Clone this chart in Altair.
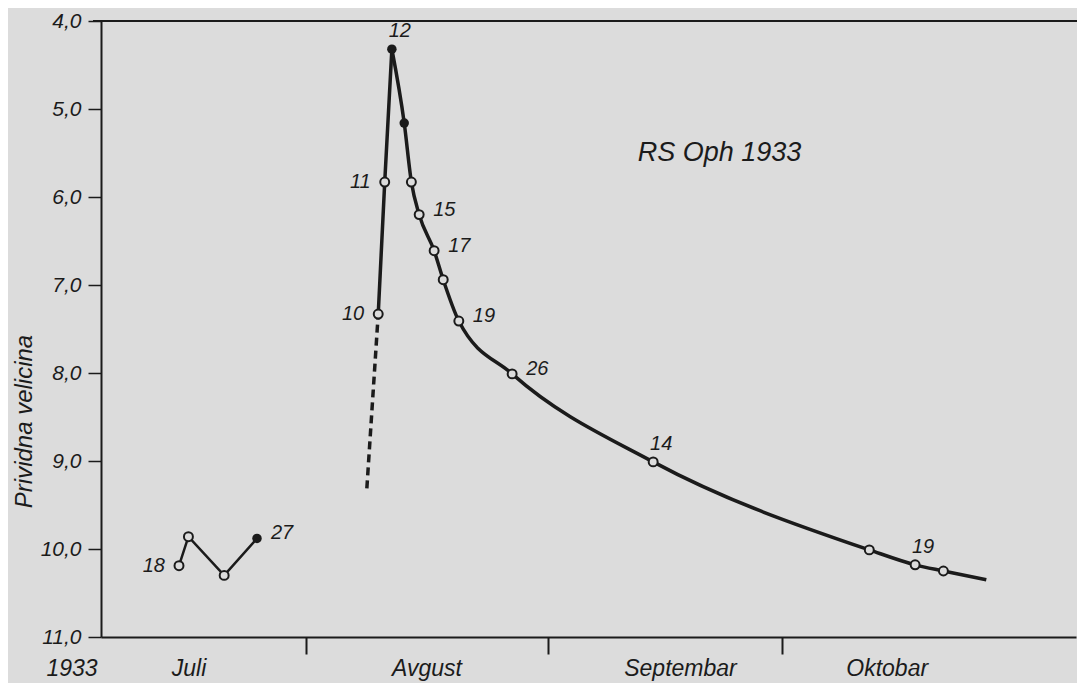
import altair as alt
import pandas as pd

# ---- data (date as drawn, apparent magnitude) ----
pre_dates = ["1933-07-15T17:00:00Z", "1933-07-16T22:00:00Z", "1933-07-21T12:00:00Z", "1933-07-25T17:00:00Z"]
pre_mags = [10.19, 9.86, 10.30, 9.88]

rise_dates = ["1933-08-10T06:00:00Z", "1933-08-11T02:00:00Z", "1933-08-12T00:00:00Z"]
rise_mags = [7.33, 5.83, 4.32]

decline_dates = ["1933-08-12T00:00:00Z", "1933-08-13T14:00:00Z", "1933-08-14T12:00:00Z",
                 "1933-08-15T12:00:00Z", "1933-08-17T10:00:00Z", "1933-08-18T14:00:00Z",
                 "1933-08-20T14:00:00Z", "1933-08-27T10:00:00Z", "1933-09-14T12:00:00Z",
                 "1933-10-12T05:00:00Z", "1933-10-18T02:00:00Z", "1933-10-21T17:00:00Z",
                 "1933-10-27T05:00:00Z"]
decline_mags = [4.32, 5.16, 5.83, 6.20, 6.61, 6.94, 7.41, 8.01, 9.01, 10.01, 10.18, 10.25, 10.35]

dashed_dates = ["1933-08-08T19:00:00Z", "1933-08-10T06:00:00Z"]
dashed_mags = [9.31, 7.33]

filled_dates = ["1933-07-25T17:00:00Z", "1933-08-12T00:00:00Z", "1933-08-13T14:00:00Z"]

left_label_dates = ["1933-07-15T17:00:00Z", "1933-08-10T06:00:00Z", "1933-08-11T02:00:00Z"]
left_label_texts = ["18", "10", "11"]
right_label_dates = ["1933-07-25T17:00:00Z", "1933-08-15T12:00:00Z", "1933-08-17T10:00:00Z",
                     "1933-08-20T14:00:00Z", "1933-08-27T10:00:00Z"]
right_label_texts = ["27", "15", "17", "19", "26"]
top_label_dates = ["1933-08-12T00:00:00Z", "1933-09-14T12:00:00Z", "1933-10-18T02:00:00Z"]
top_label_texts = ["12", "14", "19"]

month_dates = ["1933-07-02T00:00:00Z", "1933-07-17T00:00:00Z", "1933-08-16T12:00:00Z",
               "1933-09-18T00:00:00Z", "1933-10-14T12:00:00Z"]
month_texts = ["1933", "Juli", "Avgust", "Septembar", "Oktobar"]

y_ticks = [4, 5, 6, 7, 8, 9, 10, 11]

title_text = "RS Oph 1933"
y_title = "Prividna velicina"

# ---- tables ----
pre = pd.DataFrame({"date": pre_dates, "mag": pre_mags})
rise = pd.DataFrame({"date": rise_dates, "mag": rise_mags})
decline = pd.DataFrame({"date": decline_dates, "mag": decline_mags})
dashed = pd.DataFrame({"date": dashed_dates, "mag": dashed_mags})

mag_of = {}
for d, m in zip(pre_dates + rise_dates + decline_dates, pre_mags + rise_mags + decline_mags):
    mag_of[d] = m

marker_dates = list(dict.fromkeys(pre_dates + rise_dates + decline_dates[:-1]))
markers = pd.DataFrame({"date": marker_dates, "mag": [mag_of[d] for d in marker_dates]})
markers["filled"] = markers["date"].isin(filled_dates)
open_pts = markers[~markers["filled"]]
filled_pts = markers[markers["filled"]]


def labels(dates, texts):
    return pd.DataFrame({"date": dates, "mag": [mag_of[d] for d in dates], "t": texts})


left_lab = labels(left_label_dates, left_label_texts)
right_lab = labels(right_label_dates, right_label_texts)
top_lab = labels(top_label_dates, top_label_texts)
months = pd.DataFrame({"date": month_dates, "t": month_texts})
title_df = pd.DataFrame({"date": ["1933-09-23T00:00:00Z"], "mag": [5.5], "t": [title_text]})

# ---- styling ----
INK = "#1b1b1b"
BG = "#dcdcdc"
FONT = "Liberation Sans"
W, H = 975, 616

x_scale = alt.Scale(type="utc",
                    domain=[alt.DateTime(year=1933, month=7, date=5, hours=17, utc=True),
                            alt.DateTime(year=1933, month=11, date=7, hours=17, utc=True)])
X = alt.X("date:T", scale=x_scale,
          axis=alt.Axis(values=[alt.DateTime(year=1933, month=8, date=1, utc=True),
                                alt.DateTime(year=1933, month=9, date=1, utc=True),
                                alt.DateTime(year=1933, month=10, date=1, utc=True)],
                        labels=False, title=None, grid=False, tickSize=17,
                        tickWidth=2, domainWidth=2, tickColor=INK, domainColor=INK))
Y = alt.Y("mag:Q",
          scale=alt.Scale(domain=[4, 11], reverse=True, nice=False, zero=False),
          axis=alt.Axis(values=y_ticks, grid=False, tickSize=13, tickWidth=1.5,
                        domainWidth=2, tickColor=INK, domainColor=INK,
                        labelExpr="replace(format(datum.value, '.1f'), '.', ',')",
                        labelFont=FONT, labelFontStyle="italic", labelFontSize=21,
                        labelColor=INK, labelPadding=7,
                        title=y_title, titleFont=FONT, titleFontStyle="italic",
                        titleFontWeight="normal", titleFontSize=24, titleColor=INK,
                        titleAngle=270, titleX=-77, titleY=400,
                        titleAlign="center", titleBaseline="middle"))

frame_top = alt.Chart(pd.DataFrame({"mag": [4]})).mark_rule(color=INK, strokeWidth=2).encode(
    y=Y, x=alt.value(-8), x2=alt.value(W + 10))

pre_line = alt.Chart(pre).mark_line(color=INK, strokeWidth=2.5).encode(x=X, y=Y)
rise_line = alt.Chart(rise).mark_line(color=INK, strokeWidth=3.5).encode(x=X, y=Y)
decline_line = alt.Chart(decline).mark_line(color=INK, strokeWidth=3.5,
                                            interpolate="monotone").encode(x=X, y=Y)
dashed_line = alt.Chart(dashed).mark_line(color=INK, strokeWidth=3.5,
                                          strokeDash=[8, 5]).encode(x=X, y=Y)

open_marks = alt.Chart(open_pts).mark_point(shape="circle", filled=True, fill=BG, stroke=INK,
                                            strokeWidth=2, size=80, opacity=1).encode(x=X, y=Y)
filled_marks = alt.Chart(filled_pts).mark_point(shape="circle", filled=True, color=INK,
                                                size=90, opacity=1).encode(x=X, y=Y)

txt = dict(font=FONT, fontStyle="italic", fontSize=20, color=INK, baseline="middle")
left_text = alt.Chart(left_lab).mark_text(align="right", dx=-14, **txt).encode(x=X, y=Y, text="t:N")
right_text = alt.Chart(right_lab).mark_text(align="left", dx=14, dy=-5, **txt).encode(x=X, y=Y, text="t:N")
top_text = alt.Chart(top_lab).mark_text(align="center", dx=8, dy=-18, **txt).encode(x=X, y=Y, text="t:N")

title_mark = alt.Chart(title_df).mark_text(font=FONT, fontStyle="italic", fontSize=27, color=INK,
                                           align="center", baseline="middle").encode(x=X, y=Y, text="t:N")

month_text = alt.Chart(months).mark_text(font=FONT, fontStyle="italic", fontSize=23, color=INK,
                                         align="center", baseline="alphabetic").encode(
    x=X, y=alt.value(H + 39), text="t:N")

chart = alt.layer(
    frame_top, dashed_line, pre_line, rise_line, decline_line,
    open_marks, filled_marks, left_text, right_text, top_text, title_mark, month_text
).properties(
    width=W, height=H, background=BG,
    padding={"left": 93, "top": 13, "right": 1, "bottom": 46},
    autosize=alt.AutoSizeParams(type="none"),
).configure_view(stroke=None)

chart.save("out.html", embed_options={"renderer": "svg", "actions": False})
